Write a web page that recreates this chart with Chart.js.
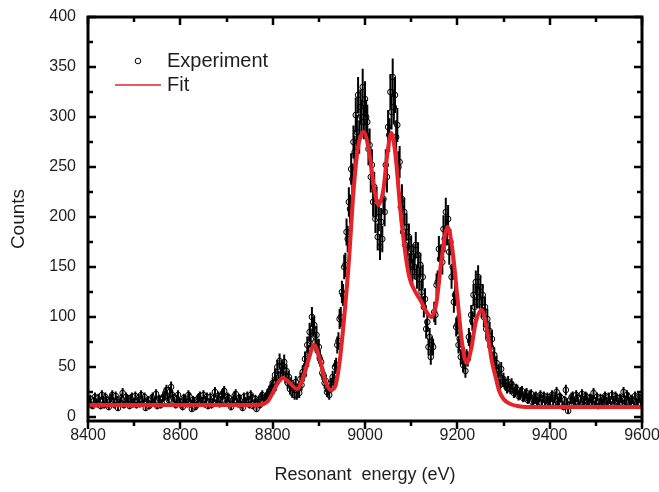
<!DOCTYPE html>
<html>
<head>
<meta charset="utf-8">
<title>Resonant energy spectrum</title>
<script src="https://cdn.jsdelivr.net/npm/chart.js@4.4.1/dist/chart.umd.min.js"></script>
<style>
  html, body { margin: 0; padding: 0; background: #fff; }
  canvas { display: block; }
</style>
</head>
<body>
<canvas id="chart" width="659" height="492"></canvas>
<script>
/* measured spectrum: one channel every 2.5 eV from 8400 to 9600 eV (40 channels per row) */
const EXP_START = 8400;
const EXP_STEP = 2.5;
const expCounts = [
  14, 17, 18, 12, 11, 16, 20, 15, 13, 19, 16, 11, 22, 17, 12, 20, 17, 13, 10, 16,
  19, 22, 15, 12, 21, 17, 9, 14, 16, 19, 24, 12, 13, 20, 18, 15, 11, 18, 20, 13,        // 8400
  15, 21, 12, 16, 19, 13, 22, 17, 14, 20, 9, 15, 17, 11, 13, 18, 20, 14, 16, 23,
  11, 16, 18, 12, 14, 19, 21, 24, 27, 20, 17, 25, 30, 22, 19, 15, 12, 18, 22, 14,       // 8500
  15, 12, 10, 19, 18, 15, 13, 22, 20, 13, 8, 17, 16, 10, 12, 18, 19, 21, 14, 16,
  22, 13, 17, 20, 11, 15, 20, 12, 15, 19, 25, 14, 18, 21, 13, 17, 21, 24, 26, 16,       // 8600
  14, 20, 19, 13, 10, 16, 17, 21, 23, 15, 13, 19, 18, 12, 9, 20, 16, 14, 21, 17,
  12, 22, 19, 11, 14, 18, 8, 15, 17, 12, 20, 22, 15, 19, 18, 21, 23, 26, 27, 30,        // 8700
  34, 28, 42, 36, 50, 40, 56, 42, 50, 48, 55, 40, 46, 34, 40, 28, 34, 24, 30, 22,
  35, 22, 28, 24, 38, 32, 45, 42, 58, 52, 72, 64, 85, 78, 100, 90, 92, 75, 82, 66,      // 8800
  70, 58, 55, 44, 42, 34, 36, 25, 27, 22, 33, 30, 40, 37, 50, 52, 72, 76, 98, 100,
  125, 122, 150, 152, 185, 178, 215, 208, 248, 238, 275, 265, 302, 285, 322, 280, 310, 300, 330, 295, // 8900
  318, 300, 295, 268, 272, 240, 252, 215, 230, 198, 215, 180, 200, 170, 195, 178, 218, 205, 252, 240,
  290, 282, 325, 305, 340, 310, 322, 280, 292, 250, 255, 210, 218, 185, 205, 172, 190, 160, 180, 152, // 9000
  168, 145, 160, 150, 172, 140, 162, 138, 152, 125, 140, 110, 118, 88, 95, 70, 80, 60, 72, 70,
  105, 102, 132, 135, 168, 158, 160, 155, 188, 178, 205, 185, 198, 165, 175, 140, 150, 115, 122, 90,  // 9100
  92, 72, 78, 60, 68, 52, 58, 46, 60, 58, 80, 76, 102, 96, 122, 110, 135, 120, 140, 120,
  130, 110, 122, 100, 110, 88, 98, 78, 86, 70, 78, 58, 62, 48, 54, 40, 46, 32, 48, 36,  // 9200
  38, 34, 32, 29, 35, 30, 28, 33, 30, 24, 25, 28, 27, 21, 22, 25, 26, 19, 20, 23,
  24, 17, 18, 22, 23, 15, 17, 20, 21, 16, 15, 19, 22, 14, 18, 21, 13, 17, 20, 15,       // 9300
  16, 19, 22, 14, 18, 21, 25, 16, 14, 20, 19, 13, 10, 17, 27, 15, 6, 12, 17, 20,
  21, 16, 15, 22, 19, 14, 12, 18, 23, 15, 17, 21, 20, 12, 14, 19, 18, 16, 24, 13,       // 9400
  16, 20, 11, 15, 19, 14, 15, 18, 21, 16, 13, 20, 17, 12, 22, 17, 14, 21, 19, 13,
  12, 19, 18, 14, 25, 17, 15, 22, 20, 16, 13, 18, 17, 12, 21, 15, 14, 20, 19, 13,       // 9500
  16                                                                                    // 9600
];

/* fitted curve */
const fitEnergy = [
  8400, 8500, 8600, 8700, 8760, 8780, 8790, 8800, 8810, 8822, 8835, 8853, 8865, 8878,
  8890, 8902, 8914, 8926, 8935, 8945, 8955, 8965, 8975, 8985, 8997, 9010, 9020, 9029,
  9040, 9048, 9057, 9066, 9077, 9087, 9096, 9108, 9120, 9132, 9144, 9155, 9165, 9179, 9190,
  9200, 9210, 9220, 9230, 9240, 9253, 9265, 9275, 9283, 9290, 9300, 9315, 9330, 9350,
  9400, 9500, 9600
];
const fitCounts = [
  12, 12, 12, 12, 12, 13, 16, 24, 33, 39, 35, 28, 38, 58,
  72, 58, 36, 27, 30, 55, 100, 155, 225, 270, 285, 262, 228, 212,
  228, 262, 284, 262, 205, 165, 140, 126, 117, 106, 100, 115, 155, 190, 165,
  120, 75, 54, 68, 95, 107, 85, 55, 40, 27, 18, 13, 11, 10,
  10, 10, 10
];

const xTicks = [8400, 8600, 8800, 9000, 9200, 9400, 9600];
const xMinor = [8500, 8700, 8900, 9100, 9300, 9500];
const yTicks = [0, 50, 100, 150, 200, 250, 300, 350, 400];
const yMinor = [25, 75, 125, 175, 225, 275, 325, 375];

const FONT = "'Liberation Sans', Arial, sans-serif";
const TEXT = "#1e1e1e";
const RED = "#e4232a";

const expPoints = expCounts.map((c, i) => ({ x: EXP_START + i * EXP_STEP, y: c }));
const fitPoints = fitEnergy.map((e, i) => ({ x: e, y: fitCounts[i] }));

/* hollow circles, then Poisson (sqrt N) error bars over them, all under the fit */
const errorBars = {
  id: "errorBars",
  beforeDatasetsDraw(chart) {
    const { ctx, chartArea: a, scales: { x, y } } = chart;
    ctx.save();
    ctx.beginPath();
    ctx.rect(a.left, a.top, a.width, a.height);
    ctx.clip();
    ctx.strokeStyle = "#000";
    ctx.fillStyle = "#fff";
    ctx.lineWidth = 1;
    expPoints.forEach(p => {
      ctx.beginPath();
      ctx.arc(x.getPixelForValue(p.x), y.getPixelForValue(p.y), 2.8, 0, Math.PI * 2);
      ctx.fill();
      ctx.stroke();
    });
    ctx.lineWidth = 2;
    ctx.beginPath();
    expPoints.forEach(p => {
      const px = x.getPixelForValue(p.x);
      const err = Math.sqrt(p.y);
      ctx.moveTo(px, y.getPixelForValue(p.y - err));
      ctx.lineTo(px, y.getPixelForValue(p.y + err));
    });
    ctx.stroke();
    ctx.restore();
  }
};

/* thick box, Origin-style ticks, in-plot legend */
const frame = {
  id: "frame",
  afterDraw(chart) {
    const { ctx, chartArea: a, scales: { x, y } } = chart;
    ctx.save();
    ctx.strokeStyle = "#000";
    ctx.lineCap = "butt";
    ctx.lineWidth = 2.5;
    ctx.beginPath();
    const xt = (v, len) => {
      const px = Math.round(x.getPixelForValue(v));
      ctx.moveTo(px, a.bottom); ctx.lineTo(px, a.bottom + len);   // bottom: outward
      ctx.moveTo(px, a.top); ctx.lineTo(px, a.top + len);         // top: inward
    };
    const yt = (v, len) => {
      const py = Math.round(y.getPixelForValue(v));
      ctx.moveTo(a.left, py); ctx.lineTo(a.left + len, py);
      ctx.moveTo(a.right, py); ctx.lineTo(a.right - len, py);
    };
    xTicks.forEach(v => xt(v, 8));
    xMinor.forEach(v => xt(v, 5));
    yTicks.forEach(v => yt(v, 8));
    yMinor.forEach(v => yt(v, 5));
    ctx.stroke();

    ctx.lineWidth = 3;
    ctx.strokeRect(a.left, a.top, a.width, a.height);

    // legend
    ctx.lineWidth = 1;
    ctx.fillStyle = "#fff";
    ctx.beginPath();
    ctx.arc(138, 61, 2.8, 0, Math.PI * 2);
    ctx.fill();
    ctx.stroke();
    ctx.strokeStyle = RED;
    ctx.lineWidth = 1.5;
    ctx.beginPath();
    ctx.moveTo(115, 85);
    ctx.lineTo(161, 85);
    ctx.stroke();
    ctx.fillStyle = TEXT;
    ctx.font = `20px ${FONT}`;
    ctx.textBaseline = "middle";
    ctx.fillText("Experiment", 167, 61);
    ctx.fillText("Fit", 167, 85);
    ctx.restore();
  }
};

new Chart(document.getElementById("chart"), {
  type: "line",
  data: {
    datasets: [
      { label: "Experiment", type: "scatter", data: expPoints, pointRadius: 0, showLine: false },
      {
        label: "Fit",
        data: fitPoints,
        borderColor: RED,
        borderWidth: 4,
        pointRadius: 0,
        cubicInterpolationMode: "monotone",
        fill: false
      }
    ]
  },
  options: {
    responsive: false,
    animation: false,
    layout: { padding: { top: 17, right: 17, left: 0, bottom: 0 } },
    plugins: { legend: { display: false }, tooltip: { enabled: false } },
    scales: {
      x: {
        type: "linear",
        min: 8400,
        max: 9600,
        afterBuildTicks: s => { s.ticks = xTicks.map(v => ({ value: v })); },
        afterFit: s => { s.height = 71; s.paddingLeft = 0; s.paddingRight = 0; },
        grid: { display: false, drawTicks: false },
        border: { display: false },
        ticks: {
          padding: 5,
          color: TEXT,
          font: { family: FONT, size: 16 },
          maxRotation: 0,
          callback: v => String(v)
        },
        title: {
          display: true,
          text: "Resonant  energy (eV)",
          color: TEXT,
          font: { family: FONT, size: 18 },
          padding: { top: 0, bottom: 6 }
        }
      },
      y: {
        min: -4,
        max: 400,
        afterBuildTicks: s => { s.ticks = yTicks.map(v => ({ value: v })); },
        afterFit: s => { s.width = 88; s.paddingTop = 0; s.paddingBottom = 0; },
        grid: { display: false, drawTicks: false },
        border: { display: false },
        ticks: { padding: 12, color: TEXT, font: { family: FONT, size: 16 }, callback: v => String(v) },
        title: {
          display: true,
          text: "Counts",
          color: TEXT,
          font: { family: FONT, size: 19 },
          padding: { top: 7, bottom: 0 }
        }
      }
    }
  },
  plugins: [errorBars, frame]
});
</script>
</body>
</html>
